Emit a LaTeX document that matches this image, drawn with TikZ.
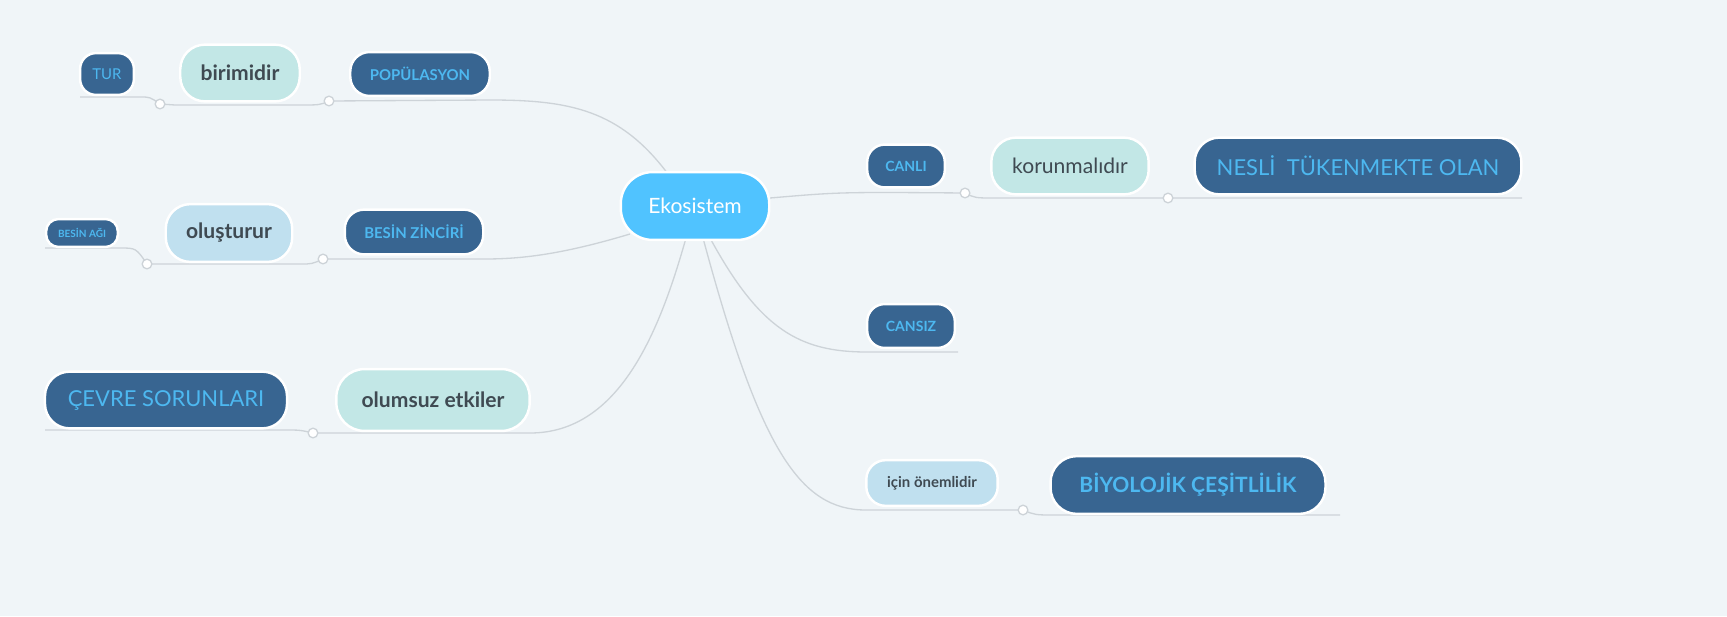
\documentclass[tikz,border=0pt]{standalone}
\usepackage{fontspec}
\setmainfont{Lato}
\definecolor{bg}{HTML}{F0F5F8}
\definecolor{dk}{HTML}{386591}
\definecolor{lt}{HTML}{4DB8F0}
\definecolor{teal}{HTML}{C2E7E6}
\definecolor{lb}{HTML}{C0E0EF}
\definecolor{gt}{HTML}{3F4A52}
\definecolor{ln}{HTML}{CDD3D8}
\definecolor{ctr}{HTML}{50C3FF}
\begin{document}
\begin{tikzpicture}[x=0.02cm,y=-0.02cm,
 box/.style={rounded corners=12pt,minimum height=#1,inner sep=0pt,draw=white,line width=1.4pt},
 dkb/.style={box=#1,fill=dk,text=lt},
 tlb/.style={box=#1,fill=teal,text=gt},
 lbb/.style={box=#1,fill=lb,text=gt},
 con/.style={draw=ln,line width=0.75pt},
 dot/.style={circle,draw=ln,fill=white,line width=0.75pt,minimum size=5.5pt,inner sep=0pt}]
\fill[bg] (0,0) rectangle (1727,616);
\coordinate (e1) at (80,97);
\coordinate (e2) at (45,248);
\coordinate (e3) at (45,430);
\coordinate (e4) at (1522,198);
\coordinate (e5) at (958,352);
\coordinate (e6) at (1340,515);
\coordinate (s1) at (668,174);
\coordinate (s2) at (630,234);
\coordinate (s3) at (686,238);
\coordinate (s4) at (770,198);
\coordinate (s5) at (710,238);
\coordinate (s6) at (703,238);
\coordinate (c1) at (329,101);
\coordinate (c2) at (160,104);
\coordinate (c3) at (323,259);
\coordinate (c4) at (147,264);
\coordinate (c5) at (313,433);
\coordinate (c6) at (965,193);
\coordinate (c7) at (1168,198);
\coordinate (c8) at (1023,510);
\draw[con] (s1) .. controls (620,110) and (570,100) .. (490,100) -- (c1);
\draw[con] (c1) .. controls (320,105) .. (300,105) -- (175,105) .. controls (168,105) .. (c2);
\draw[con] (c2) .. controls (150,97) .. (140,97) -- (e1);
\draw[con] (s2) .. controls (560,255) and (520,259) .. (484,259) -- (c3);
\draw[con] (c3) .. controls (312,264) .. (300,264) -- (c4);
\draw[con] (c4) .. controls (136,248) .. (120,248) -- (e2);
\draw[con] (s3) .. controls (660,330) and (620,433) .. (530,433) -- (c5);
\draw[con] (c5) .. controls (300,430) .. (285,430) -- (e3);
\draw[con] (s4) .. controls (840,192) .. (c6);
\draw[con] (c6) .. controls (975,198) .. (995,198) -- (c7) -- (e4);
\draw[con] (s5) .. controls (760,330) and (800,352) .. (867,352) -- (e5);
\draw[con] (s6) .. controls (760,450) and (800,510) .. (866,510) -- (c8);
\draw[con] (c8) .. controls (1035,515) .. (1055,515) -- (e6);
\foreach \n in {1,...,8}{\node[dot] (d\n) at (c\n) {};}
\node[box=38.6pt,fill=ctr,text=white,minimum width=84.5pt,font=\fontsize{12}{14}\selectfont,rounded corners=18pt] (eko) at (695,206) {Ekosistem};
\node[dkb=25pt,minimum width=79.4pt,font=\fontsize{8.5}{10}\selectfont\bfseries,rounded corners=11pt] (pop) at (420,74) {POPÜLASYON};
\node[tlb=32.3pt,minimum width=68pt,font=\fontsize{12}{14}\selectfont\bfseries,rounded corners=14pt] (bir) at (240,73) {birimidir};
\node[dkb=23.8pt,minimum width=30.6pt,font=\fontsize{8.5}{10}\selectfont,rounded corners=9pt] (tur) at (107,74) {TUR};
\node[dkb=25.5pt,minimum width=78.8pt,font=\fontsize{8.5}{10}\selectfont\bfseries,rounded corners=11pt] (bz) at (414,232) {BESİN ZİNCİRİ};
\node[lbb=32.9pt,minimum width=72pt,font=\fontsize{12}{14}\selectfont\bfseries,rounded corners=14pt] (olu) at (229,233) {oluşturur};
\node[dkb=15.9pt,minimum width=40.8pt,font=\fontsize{5.7}{7}\selectfont\bfseries,rounded corners=7pt] (ba) at (82,233) {BESİN AĞI};
\node[dkb=32.3pt,minimum width=137.8pt,font=\fontsize{12.5}{15}\selectfont,rounded corners=14pt] (cs) at (166,400) {ÇEVRE SORUNLARI};
\node[tlb=35.2pt,minimum width=110pt,font=\fontsize{12}{14}\selectfont\bfseries,rounded corners=16pt] (oe) at (433,400) {olumsuz etkiler};
\node[dkb=24.4pt,minimum width=44.2pt,font=\fontsize{8}{10}\selectfont\bfseries,rounded corners=10pt] (can) at (906,166) {CANLI};
\node[tlb=32.3pt,minimum width=89.6pt,font=\fontsize{12}{14}\selectfont,rounded corners=14pt] (kor) at (1070,166) {korunmalıdır};
\node[dkb=32.3pt,minimum width=186pt,font=\fontsize{12.5}{15}\selectfont,rounded corners=14pt] (nes) at (1358,166) {NESLİ\ \ TÜKENMEKTE OLAN};
\node[dkb=25pt,minimum width=49.9pt,font=\fontsize{8}{10}\selectfont\bfseries,rounded corners=10pt] (cz) at (911,326) {CANSIZ};
\node[lbb=26pt,minimum width=74.8pt,font=\fontsize{8.5}{10}\selectfont\bfseries,rounded corners=11pt] (ic) at (932,483) {için önemlidir};
\node[dkb=32.9pt,minimum width=156.5pt,font=\fontsize{12}{14}\selectfont\bfseries,rounded corners=15pt] (bc) at (1188,485) {BİYOLOJİK ÇEŞİTLİLİK};
\pgfresetboundingbox
\useasboundingbox (0,0) rectangle (1727,616);
\end{tikzpicture}
\end{document}
